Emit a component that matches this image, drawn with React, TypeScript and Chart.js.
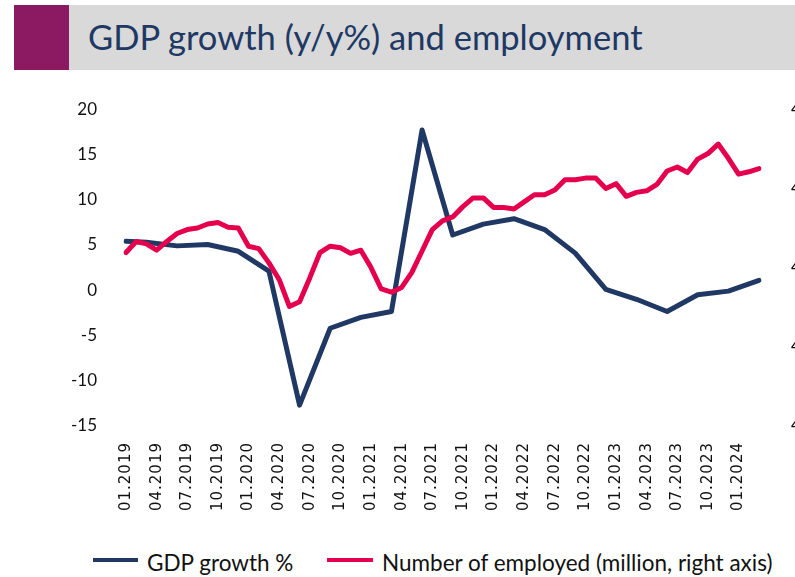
import React, { useEffect, useRef } from 'react';
import { Chart, registerables, CategoryScale } from 'chart.js';

Chart.register(...registerables);

class SpacedCategoryScale extends CategoryScale {
  static id = 'spacedCategory';
  static defaults = {};
  drawLabels(chartArea: any) {
    const ctx = this.ctx as any;
    ctx.save();
    ctx.letterSpacing = '1px';
    super.drawLabels(chartArea);
    ctx.restore();
  }
}
Chart.register(SpacedCategoryScale as any);

// ---- data ----
const startYear = 2019;
const monthCount = 63; // 01.2019 .. 03.2024
const months: string[] = [];
for (let i = 0; i < monthCount; i++) {
  const m = (i % 12) + 1;
  const y = startYear + Math.floor(i / 12);
  months.push(`${m < 10 ? '0' + m : m}.${y}`);
}

const gdpMonths = [
  '01.2019', '03.2019', '06.2019', '09.2019', '12.2019',
  '03.2020', '06.2020', '09.2020', '12.2020',
  '03.2021', '06.2021', '09.2021', '12.2021',
  '03.2022', '06.2022', '09.2022', '12.2022',
  '03.2023', '06.2023', '09.2023', '12.2023',
  '03.2024',
];
const gdpGrowth = [
  5.4, 5.3, 4.9, 5.05, 4.3,
  2.1, -12.7, -4.2, -3.0,
  -2.35, 17.7, 6.1, 7.3,
  7.9, 6.7, 4.1, 0.1,
  -1.0, -2.35, -0.5, -0.1,
  1.1,
];

const employed = [
  4.519, 4.533, 4.530, 4.522, 4.533, 4.543, 4.548, 4.550, 4.555, 4.557, 4.551, 4.550,
  4.527, 4.524, 4.506, 4.485, 4.451, 4.457, 4.487, 4.519, 4.527, 4.525, 4.518, 4.522,
  4.500, 4.473, 4.469, 4.475, 4.494, 4.521, 4.548, 4.559, 4.564, 4.577, 4.588, 4.588,
  4.576, 4.576, 4.574, 4.583, 4.592, 4.592, 4.598, 4.611, 4.611, 4.613, 4.613, 4.600,
  4.606, 4.590, 4.595, 4.597, 4.605, 4.622, 4.627, 4.620, 4.637, 4.644, 4.656, 4.638,
  4.618, 4.621, 4.625,
];

const leftTicks = { min: -15, max: 20, step: 5 };
const rightTicks = { min: 4.3, max: 4.7, step: 0.1 };

const TITLE = 'GDP growth (y/y%) and employment';
const GDP_LABEL = 'GDP growth %';
const EMP_LABEL = 'Number of employed (million, right axis)';

const NAVY = '#203864';
const RED = '#E5004D';

export default function App() {
  const ref = useRef<HTMLCanvasElement | null>(null);

  useEffect(() => {
    if (!ref.current) return;
    const chart = new Chart(ref.current, {
      type: 'line',
      data: {
        labels: months,
        datasets: [
          {
            label: GDP_LABEL,
            data: gdpMonths.map((m, i) => ({ x: m, y: gdpGrowth[i] })) as any,
            borderColor: NAVY,
            backgroundColor: NAVY,
            borderWidth: 5,
            pointRadius: 0,
            borderJoinStyle: 'round',
            borderCapStyle: 'round',
            tension: 0,
            yAxisID: 'y',
            order: 2,
          },
          {
            label: EMP_LABEL,
            data: employed,
            borderColor: RED,
            backgroundColor: RED,
            borderWidth: 5,
            pointRadius: 0,
            borderJoinStyle: 'round',
            borderCapStyle: 'round',
            tension: 0,
            yAxisID: 'y2',
            order: 1,
          },
        ],
      },
      options: {
        responsive: false,
        animation: false,
        events: [],
        layout: { padding: { top: 32, left: 0, right: 0, bottom: 0 } },
        plugins: {
          tooltip: { enabled: false },
          legend: { display: false },
        },
        scales: {
          x: {
            type: 'spacedCategory' as any,
            offset: false,
            grid: { display: false },
            border: { display: false },
            ticks: {
              autoSkip: false,
              minRotation: 90,
              maxRotation: 90,
              padding: 8,
              color: '#111',
              font: { family: 'DejaVu Sans', size: 15 },
              callback: (_v: any, i: number) => (i % 3 === 0 ? months[i] : ''),
            },
            afterFit: (s: any) => {
              s.height = 100;
            },
          },
          y: {
            position: 'left',
            min: leftTicks.min,
            max: leftTicks.max,
            grid: { display: false },
            border: { display: false },
            ticks: {
              stepSize: leftTicks.step,
              padding: 21,
              color: '#111',
              font: { family: 'Lato', size: 17 },
            },
            afterFit: (s: any) => {
              s.width = 126;
            },
          },
          y2: {
            position: 'right',
            min: rightTicks.min,
            max: rightTicks.max,
            grid: { display: false },
            border: { display: false },
            ticks: {
              stepSize: rightTicks.step,
              padding: 24,
              color: '#111',
              font: { family: 'Lato', size: 17 },
              callback: (v: any) => Number(v).toFixed(1).replace('.', ','),
            },
            afterFit: (s: any) => {
              s.width = 36;
            },
          },
        },
      },
    });
    return () => chart.destroy();
  }, []);

  const legendText: React.CSSProperties = {
    position: 'absolute',
    top: 549,
    fontFamily: 'Lato',
    fontSize: 22.5,
    lineHeight: '27px',
    color: '#111',
    whiteSpace: 'nowrap',
  };

  return (
    <div
      style={{
        position: 'fixed',
        left: 0,
        top: 0,
        width: 795,
        height: 577,
        overflow: 'hidden',
        background: '#fff',
      }}
    >
      <div style={{ position: 'absolute', left: 14, top: 5, width: 55, height: 65, background: '#8C1A62' }} />
      <div style={{ position: 'absolute', left: 69, top: 5, width: 726, height: 65, background: '#D9D9D9' }} />
      <div
        style={{
          position: 'absolute',
          left: 88,
          top: 16,
          fontFamily: 'Lato',
          fontSize: 34.5,
          lineHeight: '41.4px',
          color: NAVY,
          whiteSpace: 'nowrap',
        }}
      >
        {TITLE}
      </div>
      <canvas
        ref={ref}
        width={795}
        height={451}
        style={{ position: 'absolute', left: 0, top: 75, width: 795, height: 451 }}
      />
      <div style={{ position: 'absolute', left: 93, top: 558, width: 45, height: 4, background: NAVY }} />
      <div style={{ ...legendText, left: 147 }}>{GDP_LABEL}</div>
      <div style={{ position: 'absolute', left: 327, top: 558, width: 46, height: 4, background: RED }} />
      <div style={{ ...legendText, left: 382 }}>{EMP_LABEL}</div>
    </div>
  );
}
